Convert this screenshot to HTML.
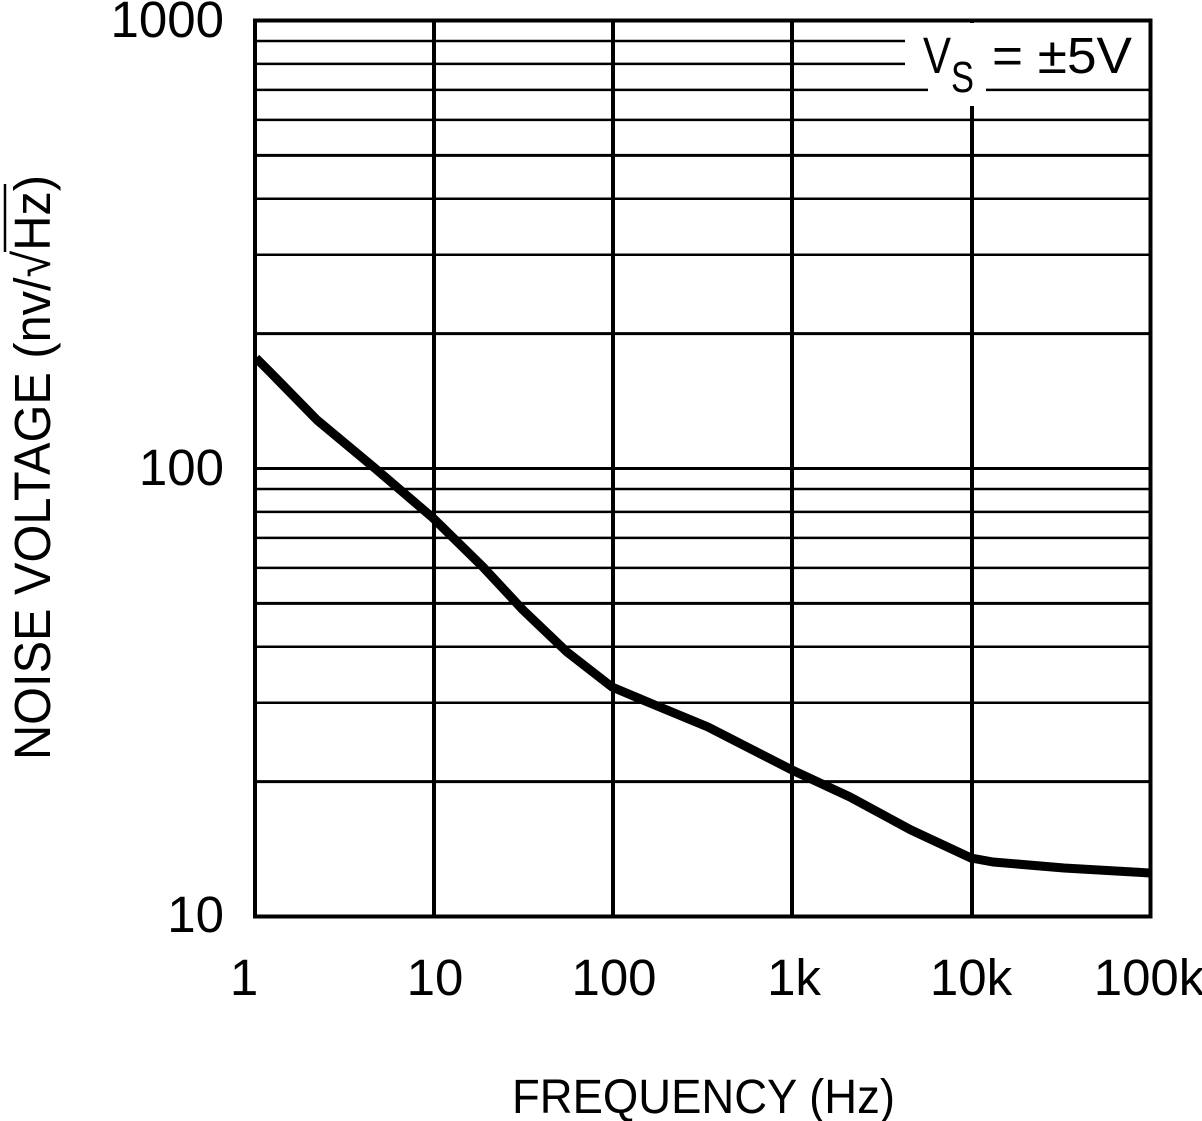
<!DOCTYPE html>
<html>
<head>
<meta charset="utf-8">
<style>
html,body{margin:0;padding:0;background:#fff;}
svg{display:block;}
text{font-family:"Liberation Sans",Arial,sans-serif;fill:#000;}
</style>
</head>
<body>
<svg width="1202" height="1121" viewBox="0 0 1202 1121" xmlns="http://www.w3.org/2000/svg">
<rect x="0" y="0" width="1202" height="1121" fill="#fff"/>
<!-- horizontal minor gridlines -->
<g stroke="#000" stroke-width="2.5">
<line x1="255" y1="781.6" x2="1150.5" y2="781.6" stroke-width="3"/>
<line x1="255" y1="702.8" x2="1150.5" y2="702.8"/>
<line x1="255" y1="646.8" x2="1150.5" y2="646.8"/>
<line x1="255" y1="603.4" x2="1150.5" y2="603.4" stroke-width="3"/>
<line x1="255" y1="567.9" x2="1150.5" y2="567.9"/>
<line x1="255" y1="537.9" x2="1150.5" y2="537.9"/>
<line x1="255" y1="511.9" x2="1150.5" y2="511.9"/>
<line x1="255" y1="489.0" x2="1150.5" y2="489.0"/>
<line x1="255" y1="468.5" x2="1150.5" y2="468.5" stroke-width="3"/>
<line x1="255" y1="333.6" x2="1150.5" y2="333.6" stroke-width="3"/>
<line x1="255" y1="254.8" x2="1150.5" y2="254.8"/>
<line x1="255" y1="198.8" x2="1150.5" y2="198.8"/>
<line x1="255" y1="155.4" x2="1150.5" y2="155.4" stroke-width="3"/>
<line x1="255" y1="119.9" x2="1150.5" y2="119.9"/>
<line x1="255" y1="89.9" x2="1150.5" y2="89.9"/>
<line x1="255" y1="63.9" x2="1150.5" y2="63.9"/>
<line x1="255" y1="41.0" x2="1150.5" y2="41.0"/>
</g>
<!-- vertical decade gridlines -->
<g stroke="#000" stroke-width="4">
<line x1="434" y1="20.5" x2="434" y2="916.5"/>
<line x1="613" y1="20.5" x2="613" y2="916.5"/>
<line x1="792" y1="20.5" x2="792" y2="916.5"/>
<line x1="972" y1="20.5" x2="972" y2="916.5"/>
</g>
<!-- white masks behind label -->
<rect x="905" y="23" width="246" height="57" fill="#fff"/>
<rect x="928" y="23" width="58" height="83" fill="#fff"/>
<!-- border -->
<rect x="255" y="20.5" width="895.5" height="896" fill="none" stroke="#000" stroke-width="4"/>
<!-- curve -->
<polyline fill="none" stroke="#000" stroke-width="9" stroke-linejoin="round" stroke-linecap="butt"
points="256,358 270,372 317,420 377,470 433,518 483,567 523,610 567,652 612,687 650,703 708,727 792,770 850,797 911,830 971,858 993,862 1064,868 1150,873"/>
<!-- y tick labels -->
<g font-size="51" text-anchor="end">
<text x="224" y="37">1000</text>
<text x="224" y="485">100</text>
<text x="224" y="932">10</text>
</g>
<!-- x tick labels -->
<g font-size="51" text-anchor="middle">
<text x="244" y="995">1</text>
<text x="435" y="995">10</text>
<text x="614" y="995">100</text>
<text x="794" y="995">1k</text>
<text x="971" y="995">10k</text>
<text x="1149" y="995">100k</text>
</g>
<!-- x axis title -->
<text x="512" y="1113" font-size="48" textLength="383" lengthAdjust="spacingAndGlyphs">FREQUENCY (Hz)</text>
<!-- y axis title -->
<g transform="translate(50,760) rotate(-90)">
<text x="0" y="0" font-size="51" textLength="585" lengthAdjust="spacingAndGlyphs">NOISE VOLTAGE (nv/√Hz)</text>
</g>
<line x1="5" y1="184" x2="5" y2="252" stroke="#000" stroke-width="2.5"/>
<!-- Vs label -->
<text x="923" y="73" font-size="51" textLength="28" lengthAdjust="spacingAndGlyphs">V</text>
<text x="951" y="92" font-size="44" textLength="23" lengthAdjust="spacingAndGlyphs">S</text>
<text x="992" y="73" font-size="51" textLength="140" lengthAdjust="spacingAndGlyphs">= ±5V</text>
</svg>
</body>
</html>
